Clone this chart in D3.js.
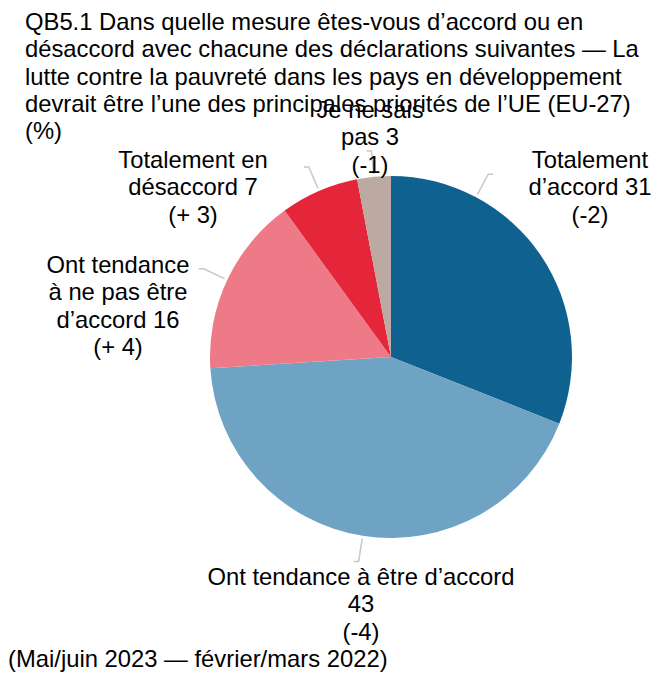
<!DOCTYPE html>
<html>
<head>
<meta charset="utf-8">
<script src="https://cdn.jsdelivr.net/npm/d3@7"></script>
<style>
  body { margin: 0; background: #fff; }
  text { font-family: "Liberation Sans", Arial, sans-serif; fill: #000; }
</style>
</head>
<body>
<div id="chart"></div>
<script>
// data
var categories = ["Totalement d’accord", "Ont tendance à être d’accord", "Ont tendance à ne pas être d’accord", "Totalement en désaccord", "Je ne sais pas"]
var values = [31, 43, 16, 7, 3]
var changes = ["(-2)", "(-4)", "(+ 4)", "(+ 3)", "(-1)"]
var colors = ["#0f6190", "#6fa3c3", "#ee7a88", "#e4253a", "#bcaaa2"]

var titleLines = [
  "QB5.1 Dans quelle mesure êtes-vous d’accord ou en",
  "désaccord avec chacune des déclarations suivantes — La",
  "lutte contre la pauvreté dans les pays en développement",
  "devrait être l’une des principales priorités de l’UE (EU-27)",
  "(%)"
]
var footer = "(Mai/juin 2023 — février/mars 2022)"

// layout (label placement like the original, words per line)
var wordsPerLine = [[1, 2], [5, 1], [2, 4, 2], [2, 2], [3, 2]]
var labelPos = [[590, 168], [361, 585], [118, 273], [193, 168], [370, 118]]
var leaderAngle = [28, null, null, null, null] // degrees, null = middle of slice
var hookDir = [1, -1, -1, -1, -1]

var width = 651, height = 674
var cx = 391, cy = 357, radius = 181
var fs = 23.8, lh = 27.3

var svg = d3.select("#chart").append("svg").attr("width", width).attr("height", height)

svg.selectAll(".title").data(titleLines).enter().append("text")
  .attr("class", "title").attr("x", 25).attr("y", function(d, i) { return 30 + i * lh })
  .style("font-size", fs + "px").text(function(d) { return d })

var pie = d3.pie().sort(null).value(function(d) { return d })
var arcs = pie(values)
var arc = d3.arc().innerRadius(0).outerRadius(radius)

var g = svg.append("g").attr("transform", "translate(" + cx + "," + cy + ")")
g.selectAll("path.slice").data(arcs).enter().append("path")
  .attr("class", "slice").attr("d", arc)
  .attr("fill", function(d, i) { return colors[i] })

// leader lines
arcs.forEach(function(d, i) {
  var a = leaderAngle[i] != null ? leaderAngle[i] * Math.PI / 180 : (d.startAngle + d.endAngle) / 2
  var r0 = radius + 3, r1 = radius + 26
  var x0 = Math.sin(a) * r0, y0 = -Math.cos(a) * r0
  var x1 = Math.sin(a) * r1, y1 = -Math.cos(a) * r1
  g.append("polyline")
    .attr("points", [[x0, y0], [x1, y1], [x1 + hookDir[i] * 5, y1]].join(" "))
    .attr("fill", "none").attr("stroke", "#c8c8c8").attr("stroke-width", 1.5)
})

// labels
arcs.forEach(function(d, i) {
  var words = (categories[i] + " " + values[i]).split(" ")
  var lines = [], k = 0
  wordsPerLine[i].forEach(function(n) { lines.push(words.slice(k, k + n).join(" ")); k += n })
  lines.push(changes[i])
  svg.append("g").selectAll("text").data(lines).enter().append("text")
    .attr("x", labelPos[i][0]).attr("y", function(t, j) { return labelPos[i][1] + j * lh })
    .attr("text-anchor", "middle").style("font-size", fs + "px")
    .text(function(t) { return t })
})

svg.append("text").attr("x", 8).attr("y", 667).style("font-size", fs + "px").text(footer)
</script>
</body>
</html>
